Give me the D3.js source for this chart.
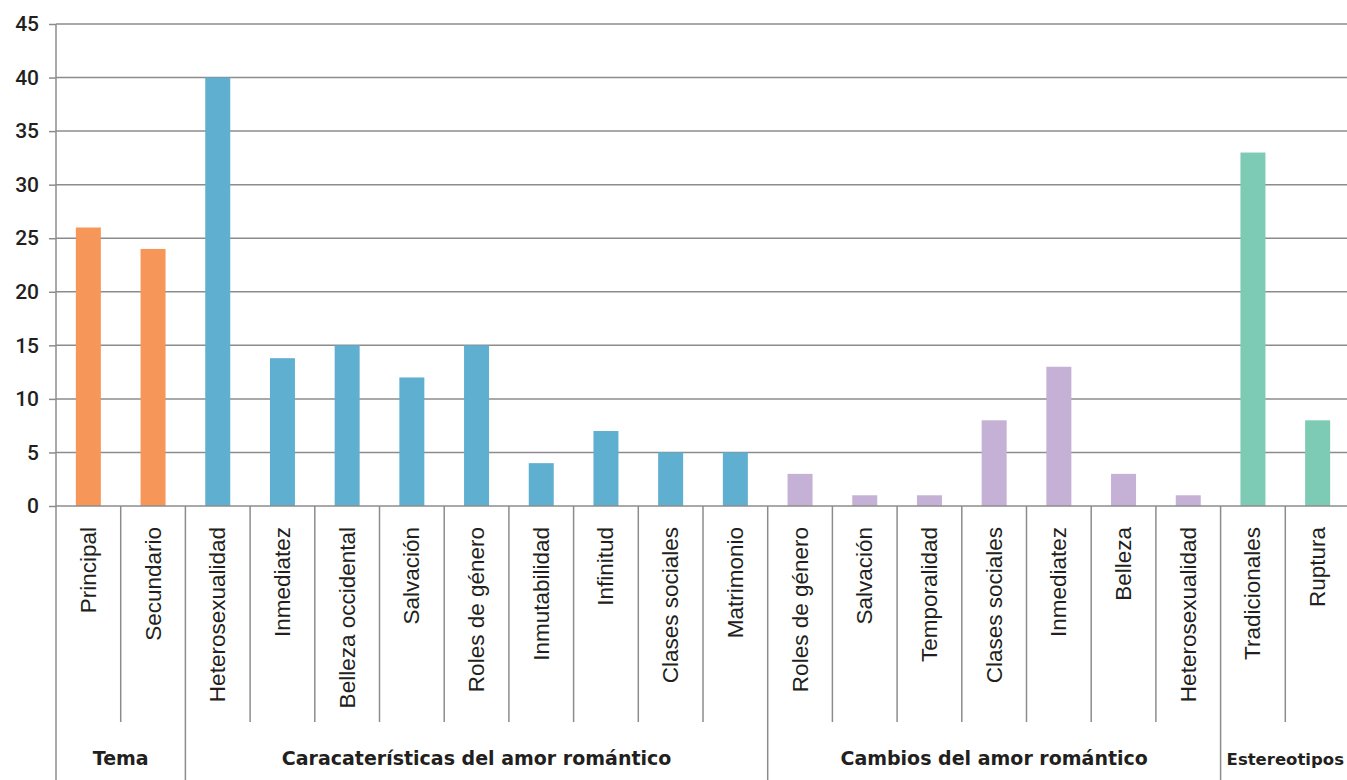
<!DOCTYPE html>
<html>
<head>
<meta charset="utf-8">
<script src="https://cdn.jsdelivr.net/npm/d3@7"></script>
<style>
html,body{margin:0;padding:0;background:#fff;}
svg{display:block;}
</style>
</head>
<body>
<svg id="chart" width="1347" height="780"></svg>
<script>
const categories = ["Principal","Secundario","Heterosexualidad","Inmediatez","Belleza occidental","Salvación","Roles de género","Inmutabilidad","Infinitud","Clases sociales","Matrimonio","Roles de género","Salvación","Temporalidad","Clases sociales","Inmediatez","Belleza","Heterosexualidad","Tradicionales","Ruptura"];
const values = [26,24,40,13.8,15,12,15,4,7,5,5,3,1,1,8,13,3,1,33,8];
const groupNames = ["Tema","Caracaterísticas del amor romántico","Cambios del amor romántico","Estereotipos"];
const groupSizes = [2,9,7,2];
const groupColors = ["#F79659","#5FAFD1","#C5B0D6","#7ECBB5"];
const yTicks = [0,5,10,15,20,25,30,35,40,45];

const svg = d3.select("#chart");
const W = 1347, H = 780;
const left = 56, right = 1350, y0 = 506, yTop = 24;

const ids = categories.map((c,i)=>i);
const x = d3.scaleBand().domain(ids).range([left,right]).padding(0);
const y = d3.scaleLinear().domain([0,45]).range([y0,yTop]);
const groupIdx = [];
groupSizes.forEach((s,g)=>{for(let k=0;k<s;k++)groupIdx.push(g);});

// gridlines
svg.append("g").selectAll("line").data(yTicks.filter(t=>t>0)).join("line")
  .attr("x1",left).attr("x2",W).attr("y1",d=>y(d)).attr("y2",d=>y(d))
  .attr("stroke","#8c8c8c").attr("stroke-width",1.5);

// y axis
const yAxis = d3.axisLeft(y).tickValues(yTicks).tickSize(7).tickPadding(10);
const ga = svg.append("g").attr("transform",`translate(${left},0)`).call(yAxis);
ga.select(".domain").remove();
ga.selectAll(".tick line").attr("stroke","#8c8c8c").attr("stroke-width",1.5);
ga.selectAll(".tick text").attr("font-family","Roboto, 'DejaVu Sans', sans-serif")
  .attr("font-size",21).attr("font-weight",500).attr("fill","#231f20");

// bars
const bw = 25;
svg.append("g").selectAll("rect").data(values).join("rect")
  .attr("x",(d,i)=>x(i)+x.bandwidth()/2-bw/2)
  .attr("width",bw)
  .attr("y",d=>y(d))
  .attr("height",d=>y0-y(d))
  .attr("fill",(d,i)=>groupColors[groupIdx[i]]);

// baseline
svg.append("line").attr("x1",left).attr("x2",W).attr("y1",y0).attr("y2",y0)
  .attr("stroke","#8c8c8c").attr("stroke-width",1.5);
// vertical axis line
svg.append("line").attr("x1",left).attr("x2",left).attr("y1",yTop).attr("y2",H)
  .attr("stroke","#8c8c8c").attr("stroke-width",1.5);

// group boundaries
const groupStarts = [];
let acc = 0;
groupSizes.forEach(s=>{groupStarts.push(acc); acc+=s;});
svg.append("g").selectAll("line").data(ids.slice(1)).join("line")
  .attr("x1",d=>x(d)).attr("x2",d=>x(d))
  .attr("y1",y0)
  .attr("y2",d=>groupStarts.includes(d)?H:722)
  .attr("stroke","#8c8c8c").attr("stroke-width",1.5);

// category labels
svg.append("g").selectAll("text").data(categories).join("text")
  .attr("transform",(d,i)=>`translate(${x(i)+x.bandwidth()/2+7.5},527) rotate(-90)`)
  .attr("text-anchor","end")
  .attr("font-family","'Liberation Sans', Arial, sans-serif")
  .attr("font-size",22.5).attr("fill","#231f20")
  .text(d=>d);

// group labels
svg.append("g").selectAll("text").data(groupNames).join("text")
  .attr("x",(d,g)=>{const a=x(groupStarts[g]); const b=x(groupStarts[g]+groupSizes[g]-1)+x.bandwidth(); return (a+b)/2;})
  .attr("y",765)
  .attr("text-anchor","middle")
  .attr("font-family","'DejaVu Sans', sans-serif")
  .attr("font-weight",700)
  .attr("font-size",(d,g)=>g===3?16.5:19)
  .attr("fill","#231f20")
  .text(d=>d);
</script>
</body>
</html>
